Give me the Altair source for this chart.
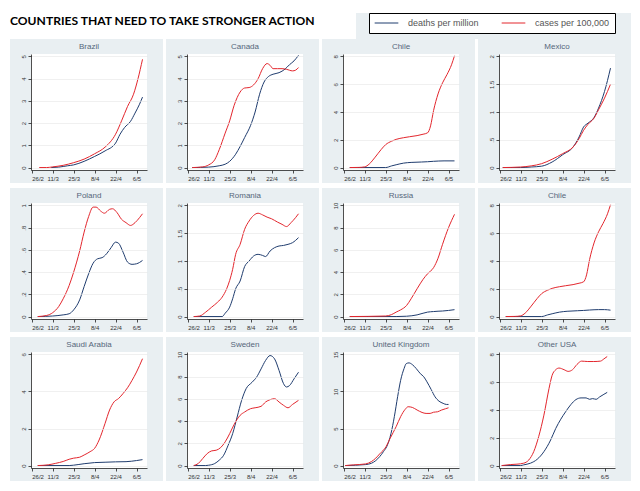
import altair as alt
import pandas as pd

# ---------------- data ----------------
main_title = "COUNTRIES THAT NEED TO TAKE STRONGER ACTION"
titles = ["Brazil", "Canada", "Chile", "Mexico",
          "Poland", "Romania", "Russia", "Chile",
          "Saudi Arabia", "Sweden", "United Kingdom", "Other USA"]

series_names = ["deaths per million", "cases per 100,000"]
series_colors = ["#1f3c6e", "#e3262d"]

x_tick_days = [0, 14, 28, 42, 56, 70]
x_tick_labels = ["26/2", "11/3", "25/3", "8/4", "22/4", "6/5"]

# (day since 26/2, value)
brazil_deaths = [(13, 0), (18, 0.02), (24, 0.08), (28, 0.12), (35, 0.28), (42, 0.5), (49, 0.75),
                 (56, 1.1), (59, 1.5), (62, 1.8), (66, 2.08), (69, 2.45), (72, 2.85), (74, 3.17)]
brazil_cases = [(5, 0), (10, 0.0), (14, 0.03), (21, 0.1), (28, 0.22), (35, 0.38), (42, 0.62), (49, 0.92),
                (56, 1.5), (60, 2.1), (64, 2.75), (68, 3.3), (71, 4.0), (74, 4.87)]

canada_deaths = [(3, 0), (14, 0.02), (21, 0.08), (25, 0.15), (28, 0.28), (32, 0.6), (35, 0.95), (38, 1.35),
                 (42, 1.9), (45, 2.5), (48, 3.3), (51, 3.85), (54, 4.1), (57, 4.2), (61, 4.27), (65, 4.43),
                 (68, 4.63), (71, 4.8), (74, 5.05)]
canada_cases = [(3, 0), (10, 0.03), (14, 0.12), (18, 0.35), (21, 0.8), (25, 1.55), (28, 2.1), (31, 2.8),
                (35, 3.4), (38, 3.58), (41, 3.6), (44, 3.72), (47, 4.0), (50, 4.45), (53, 4.68), (55, 4.6),
                (57, 4.45), (60, 4.45), (63, 4.45), (66, 4.42), (70, 4.35), (72, 4.38), (74, 4.5)]

chile_deaths = [(4, 0), (28, 0.0), (32, 0.12), (35, 0.2), (40, 0.32), (45, 0.37), (52, 0.4), (56, 0.42),
                (60, 0.45), (67, 0.48), (74, 0.48)]
chile_cases = [(4, 0), (10, 0.01), (14, 0.05), (17, 0.25), (21, 0.75), (25, 1.3), (28, 1.65), (32, 1.9),
               (35, 2.03), (40, 2.15), (44, 2.22), (49, 2.3), (53, 2.4), (56, 2.5), (58, 3.0), (60, 4.1),
               (63, 5.3), (66, 6.1), (69, 6.7), (72, 7.4), (74, 8.05)]

mexico_deaths = [(2, 0), (14, 0), (21, 0.01), (28, 0.025), (35, 0.1), (42, 0.23), (49, 0.37), (53, 0.55),
                 (56, 0.73), (59, 0.8), (63, 0.9), (66, 1.07), (70, 1.37), (74, 1.79)]
mexico_cases = [(2, 0), (14, 0.01), (21, 0.03), (28, 0.07), (35, 0.15), (42, 0.25), (49, 0.37), (53, 0.52),
                (56, 0.67), (59, 0.78), (63, 0.89), (66, 1.04), (70, 1.25), (74, 1.5)]

poland_deaths = [(4, 0), (14, 0.005), (21, 0.015), (25, 0.025), (28, 0.06), (32, 0.15), (35, 0.27),
                 (38, 0.385), (41, 0.48), (44, 0.52), (47, 0.53), (50, 0.565), (53, 0.62), (56, 0.67),
                 (58, 0.66), (61, 0.58), (64, 0.49), (67, 0.47), (70, 0.475), (74, 0.505)]
poland_cases = [(4, 0), (10, 0.01), (14, 0.035), (18, 0.09), (21, 0.16), (25, 0.28), (28, 0.4), (32, 0.59),
                (35, 0.76), (38, 0.9), (41, 0.985), (43, 0.985), (46, 0.95), (48.5, 0.93), (52, 0.965),
                (54, 0.97), (57, 0.935), (60, 0.875), (63, 0.845), (66, 0.82), (69, 0.845), (72, 0.89),
                (74, 0.925)]

romania_deaths = [(4, 0), (23, 0), (25, 0.06), (28, 0.17), (30, 0.32), (32, 0.5), (35, 0.64), (38, 0.9),
                  (41, 1.0), (44, 1.09), (47, 1.12), (50, 1.1), (52, 1.08), (55, 1.18), (58, 1.24),
                  (61, 1.27), (64, 1.28), (67, 1.3), (70, 1.33), (72, 1.37), (74, 1.42)]
romania_cases = [(4, 0), (8, 0.01), (12, 0.08), (16, 0.17), (20, 0.26), (23, 0.35), (26, 0.5), (28, 0.65),
                 (30, 0.85), (32, 1.12), (35, 1.3), (38, 1.57), (41, 1.72), (44, 1.82), (47, 1.86),
                 (50, 1.83), (53, 1.79), (56, 1.76), (60, 1.7), (63, 1.66), (66, 1.62), (69, 1.69),
                 (72, 1.78), (74, 1.85)]

russia_deaths = [(4, 0), (35, 0), (42, 0.03), (49, 0.15), (53, 0.3), (56, 0.4), (60, 0.45), (63, 0.48),
                 (66, 0.5), (70, 0.55), (74, 0.62)]
russia_cases = [(4, 0), (28, 0.05), (32, 0.18), (35, 0.4), (38, 0.6), (42, 1.0), (45, 1.6), (49, 2.5),
                (53, 3.35), (56, 3.85), (60, 4.4), (63, 5.25), (66, 6.5), (70, 8.0), (74, 9.2)]

chile2_deaths = [(4, 0), (28, 0.0), (32, 0.12), (35, 0.2), (40, 0.32), (45, 0.38), (52, 0.42), (56, 0.44),
                 (60, 0.47), (66, 0.5), (70, 0.5), (74, 0.46)]
chile2_cases = [(4, 0), (10, 0.01), (14, 0.05), (17, 0.25), (21, 0.75), (25, 1.3), (28, 1.65), (32, 1.9),
                (35, 2.03), (40, 2.15), (44, 2.22), (49, 2.3), (53, 2.4), (56, 2.5), (58, 3.0), (60, 4.1),
                (63, 5.3), (66, 6.1), (69, 6.7), (72, 7.4), (74, 8.05)]

saudi_deaths = [(4, 0), (25, 0), (28, 0.02), (35, 0.1), (42, 0.16), (49, 0.18), (56, 0.2), (63, 0.21),
                (70, 0.27), (74, 0.32)]
saudi_cases = [(4, 0), (11, 0.04), (16, 0.12), (21, 0.22), (25, 0.34), (28, 0.4), (32, 0.45), (35, 0.57),
               (39, 0.75), (42, 0.93), (45, 1.38), (49, 2.28), (52, 3.0), (55, 3.44), (58, 3.62),
               (61, 3.89), (64, 4.2), (67, 4.6), (70, 5.05), (74, 5.77)]

sweden_deaths = [(4, 0), (12, 0), (14, 0.03), (18, 0.18), (21, 0.48), (24, 0.93), (27, 1.83), (30, 2.87),
                 (33, 4.37), (36, 5.87), (39, 6.92), (43, 7.5), (46, 7.96), (49, 8.7), (52, 9.46),
                 (55, 9.9), (58, 9.6), (61, 8.56), (64, 7.37), (66, 7.07), (68, 7.2), (71, 7.8), (74, 8.4)]
sweden_cases = [(4, 0), (7, 0.18), (10, 0.63), (13, 1.08), (16, 1.32), (19, 1.38), (22, 1.62), (25, 2.13),
                (28, 2.87), (31, 3.7), (35, 4.52), (38, 4.82), (42, 5.12), (45, 5.2), (49, 5.33),
                (52, 5.72), (55, 5.93), (58, 6.02), (61, 5.72), (64, 5.42), (67, 5.2), (70, 5.5), (74, 5.87)]

uk_deaths = [(1, 0), (14.6, 0.13), (18.5, 0.31), (21.4, 0.67), (24, 1.2), (26.6, 1.9), (28.7, 2.55),
             (31.6, 4.35), (33.8, 6.6), (36, 9.3), (38, 11.5), (40.3, 13.1), (41.8, 13.77), (43.6, 13.86),
             (45.8, 13.63), (48.4, 13.1), (51.2, 12.4), (53.4, 12.0), (55.6, 11.3), (58.4, 10.27),
             (61, 9.28), (63.6, 8.7), (66.4, 8.4), (68.6, 8.25), (70, 8.25)]
uk_cases = [(1, 0), (6.5, 0.09), (14.6, 0.22), (18.5, 0.54), (21.4, 1.0), (24, 1.57), (28.3, 2.56),
            (31, 3.68), (35, 5.25), (38, 6.6), (41, 7.58), (43, 7.94), (45.8, 7.85), (49, 7.5),
            (52.3, 7.17), (55, 7.04), (57.7, 7.04), (60, 7.2), (62.7, 7.26), (65.4, 7.5), (68, 7.67),
            (70, 7.8)]

usa_deaths = [(1.3, 0), (14, 0.0), (16, 0.05), (20.5, 0.17), (25, 0.45), (29.5, 1.0), (34, 1.84),
              (37.4, 2.67), (40.8, 3.34), (44, 3.87), (47.5, 4.39), (50.9, 4.75), (54.3, 4.87),
              (57.7, 4.87), (60, 4.77), (62, 4.82), (64.4, 4.77), (66.7, 4.94), (69.6, 5.13), (71.8, 5.27)]
usa_cases = [(1.3, 0), (7, 0.07), (11.5, 0.1), (16, 0.17), (19.4, 0.4), (22.7, 1.0), (26, 2.08),
             (29.5, 3.63), (32.9, 5.54), (35, 6.5), (37.4, 6.9), (39.6, 7.02), (43, 6.9), (45.7, 6.78),
             (48.6, 6.9), (51.6, 7.28), (54.7, 7.52), (58.8, 7.49), (62.8, 7.49), (67.3, 7.52),
             (69.6, 7.68), (71.8, 7.85)]

panel_series = [
    (brazil_deaths, brazil_cases), (canada_deaths, canada_cases),
    (chile_deaths, chile_cases), (mexico_deaths, mexico_cases),
    (poland_deaths, poland_cases), (romania_deaths, romania_cases),
    (russia_deaths, russia_cases), (chile2_deaths, chile2_cases),
    (saudi_deaths, saudi_cases), (sweden_deaths, sweden_cases),
    (uk_deaths, uk_cases), (usa_deaths, usa_cases),
]

y_ticks = [
    [0, 1, 2, 3, 4, 5], [0, 1, 2, 3, 4, 5], [0, 2, 4, 6, 8], [0, 0.5, 1, 1.5, 2],
    [0, 0.2, 0.4, 0.6, 0.8, 1], [0, 0.5, 1, 1.5, 2], [0, 2, 4, 6, 8, 10], [0, 2, 4, 6, 8],
    [0, 2, 4, 6], [0, 2, 4, 6, 8, 10], [0, 5, 10, 15], [0, 2, 4, 6, 8],
]

# ---------------- styling ----------------
W, H = 116, 116
LEFT_EXT = 21          # panel background reaches this far left of the plot area
GRID_W = 4 * 153 + 3 * 3
HEAD_W = GRID_W - LEFT_EXT
HEAD_H = 26
PANEL_BG = "#e9eff2"
LBL_FONT = "Liberation Sans"

x_label_expr = " : ".join(
    f"datum.value == {d} ? '{l}'" for d, l in zip(x_tick_days, x_tick_labels)
) + " : ''"
y_label_expr = ("datum.value > 0 && datum.value < 1 ? slice(toString(datum.value), 1) "
                ": toString(datum.value)")

axis_style = dict(domainColor="#222", domainWidth=0.8, tickColor="#222", tickSize=3, tickWidth=0.8,
                  labelColor="#333", labelFont=LBL_FONT, labelFontSize=6, labelPadding=2,
                  gridColor="#e6e6e6", gridWidth=0.6, zindex=1)

legend = alt.Legend(orient="none", legendX=338, legendY=0,
                    direction="horizontal", title=None,
                    strokeColor="black", fillColor="white",
                    padding=5, symbolType="stroke", symbolSize=560,
                    symbolStrokeWidth=1, labelFontSize=9,
                    labelFont=LBL_FONT, labelColor="#555",
                    columnPadding=22, labelOffset=9, clipHeight=10, zindex=1)


def panel(i):
    deaths, cases = panel_series[i]
    rows = [{"day": d, "value": v, "series": series_names[0], "order": 0} for d, v in deaths]
    rows += [{"day": d, "value": v, "series": series_names[1], "order": 1} for d, v in cases]
    df = pd.DataFrame(rows)
    ticks = y_ticks[i]
    rng = ticks[-1] - ticks[0]
    ydom = [ticks[0] - 0.022 * rng, ticks[-1] + 0.022 * rng]

    bg = alt.Chart(alt.Data(values=[{}])).mark_rect(color=PANEL_BG).encode(
        x=alt.value(-LEFT_EXT), x2=alt.value(W + 16), y=alt.value(-15), y2=alt.value(H + 13))
    white = alt.Chart(alt.Data(values=[{}])).mark_rect(color="white").encode(
        x=alt.value(0), x2=alt.value(W), y=alt.value(0), y2=alt.value(H))
    ttl = alt.Chart(alt.Data(values=[{"t": titles[i]}])).mark_text(
        font=LBL_FONT, fontSize=8, color="#55667a", baseline="middle", align="center"
    ).encode(x=alt.value(W / 2), y=alt.value(-7), text="t:N")
    lines = alt.Chart(df).mark_line(interpolate="monotone", strokeWidth=1).encode(
        x=alt.X("day:Q", title=None, scale=alt.Scale(domain=[-0.5, 77], nice=False),
                axis=alt.Axis(values=x_tick_days, labelExpr=x_label_expr, grid=False,
                              labelAngle=0, **axis_style)),
        y=alt.Y("value:Q", title=None, scale=alt.Scale(domain=ydom, nice=False, zero=False),
                axis=alt.Axis(values=ticks, labelExpr=y_label_expr, grid=True,
                              labelAngle=270, **axis_style)),
        color=alt.Color("series:N", scale=alt.Scale(domain=series_names, range=series_colors),
                        legend=legend),
        order="order:Q",
    )
    return alt.layer(bg, white, lines, ttl).properties(width=W, height=H)


# header strip: title text and the light band behind the legend
head_bg = alt.Chart(alt.Data(values=[{}])).mark_rect(color=PANEL_BG).encode(
    x=alt.value(325), x2=alt.value(HEAD_W), y=alt.value(0), y2=alt.value(HEAD_H))
head_txt = alt.Chart(alt.Data(values=[{"t": main_title}])).mark_text(
    font="Lato", fontSize=12.1, fontWeight="bold", color="black", align="left", baseline="alphabetic"
).encode(x=alt.value(-LEFT_EXT), y=alt.value(12), text="t:N")
header = alt.layer(head_bg, head_txt).properties(width=HEAD_W, height=HEAD_H)

rows = [alt.hconcat(*[panel(r * 4 + c) for c in range(4)], spacing=3) for r in range(3)]
grid = alt.vconcat(*rows, spacing=5)

chart = alt.vconcat(header, grid, spacing=0).properties(
    padding={"left": 2, "top": 4, "right": 0, "bottom": 2},
    background="white",
).configure_view(stroke=None)

chart.save("out.html", embed_options={"renderer": "svg", "actions": False})
